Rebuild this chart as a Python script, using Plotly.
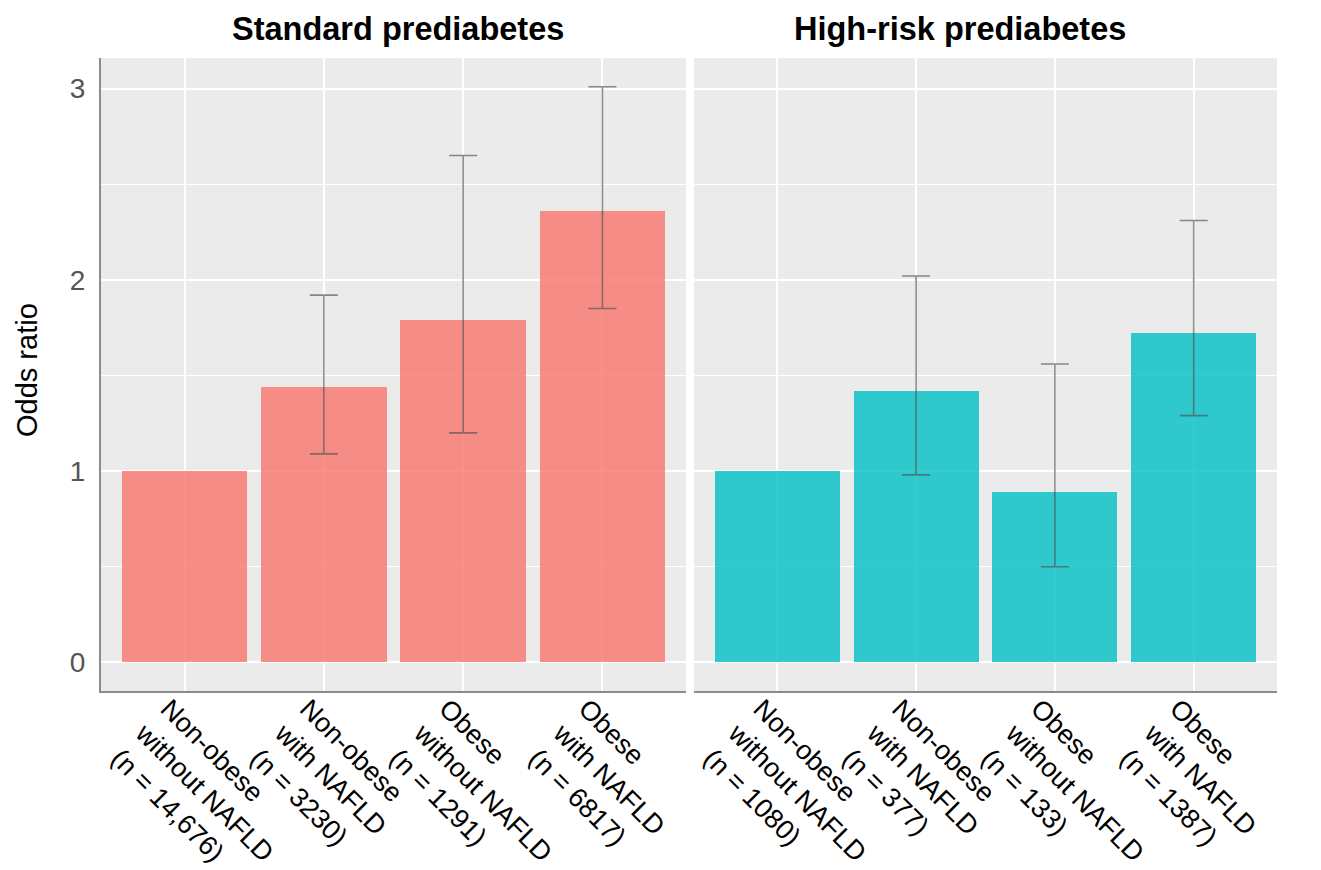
import plotly.graph_objects as go

categories_std = ["Non-obese<br>without NAFLD<br>(n = 14,676)",
                  "Non-obese<br>with NAFLD<br>(n = 3230)",
                  "Obese<br>without NAFLD<br>(n = 1291)",
                  "Obese<br>with NAFLD<br>(n = 6817)"]
categories_high = ["Non-obese<br>without NAFLD<br>(n = 1080)",
                   "Non-obese<br>with NAFLD<br>(n = 377)",
                   "Obese<br>without NAFLD<br>(n = 133)",
                   "Obese<br>with NAFLD<br>(n = 1387)"]

or_std = [1.0, 1.44, 1.79, 2.36]
lo_std = [None, 1.09, 1.20, 1.85]
hi_std = [None, 1.92, 2.65, 3.01]

or_high = [1.0, 1.42, 0.89, 1.72]
lo_high = [None, 0.98, 0.50, 1.29]
hi_high = [None, 2.02, 1.56, 2.31]

y_ticks = [0, 1, 2, 3]
panel_titles = ["Standard prediabetes", "High-risk prediabetes"]
y_title = "Odds ratio"

FONT = "Liberation Sans, Arial, sans-serif"

def err(vals, lo, hi):
    plus = [(h - v) if h is not None else 0 for v, h in zip(vals, hi)]
    minus = [(v - l) if l is not None else 0 for v, l in zip(vals, lo)]
    vis = [h is not None for h in hi]
    return plus, minus, vis

fig = go.Figure()

for i, (cats, vals, lo, hi, col) in enumerate([
        (categories_std, or_std, lo_std, hi_std, "rgba(248,118,109,0.8)"),
        (categories_high, or_high, lo_high, hi_high, "rgba(0,191,196,0.8)")]):
    plus, minus, vis = err(vals, lo, hi)
    xs = list(range(len(cats)))
    ax = "" if i == 0 else "2"
    fig.add_trace(go.Bar(
        x=xs, y=vals, width=0.9, marker=dict(color=col, line=dict(width=0)),
        xaxis="x" + ax, yaxis="y" + ax, showlegend=False,
    ))
    ex = [x for x, v in zip(xs, vis) if v]
    ey = [y for y, v in zip(vals, vis) if v]
    ep = [p for p, v in zip(plus, vis) if v]
    em = [m for m, v in zip(minus, vis) if v]
    fig.add_trace(go.Scatter(
        x=ex, y=ey, mode="markers", marker=dict(size=0.1, color="rgba(0,0,0,0)"),
        error_y=dict(type="data", symmetric=False, array=ep, arrayminus=em,
                     color="rgba(80,80,80,0.65)", thickness=1.6, width=14),
        xaxis="x" + ax, yaxis="y" + ax, showlegend=False, hoverinfo="skip",
    ))

# page body has an 8px default margin, so figure coords = screen coords - 8
OFF = 8
W, H = 1321 - OFF, 870 - OFF
ml, mt = 101 - OFF, 58 - OFF
plot_right, plot_bottom = 1277 - OFF, 691 - OFF
mr, mb = W - plot_right, H - plot_bottom
pw = W - ml - mr
ph = H - mt - mb

xcommon = dict(range=[-0.6, 3.6], tickmode="array", tickvals=[0, 1, 2, 3],
               tickangle=45, tickfont=dict(family=FONT, size=27, color="black"),
               ticklabelshift=-16, ticklabelstandoff=-11,
               showgrid=True, gridcolor="white", gridwidth=1.5, zeroline=False,
               showline=True, linecolor="#8c8c8c", linewidth=2, ticks="",
               automargin=False, fixedrange=True)
ycommon = dict(range=[-0.15, 3.16], tickmode="array", tickvals=y_ticks,
               showgrid=True, gridcolor="white", gridwidth=1.5, zeroline=False,
               minor=dict(tickmode="array", tickvals=[0.5, 1.5, 2.5], showgrid=True,
                          gridcolor="white", gridwidth=0.8),
               automargin=False, fixedrange=True)

fig.update_layout(
    width=W, height=H,
    margin=dict(l=ml, r=mr, t=mt, b=mb, autoexpand=False),
    paper_bgcolor="white", plot_bgcolor="#EBEBEB",
    font=dict(family=FONT, color="black"),
    bargap=0,
    xaxis=dict(domain=[0, (686 - OFF - ml) / pw], ticktext=categories_std, anchor="y", **xcommon),
    xaxis2=dict(domain=[(694 - OFF - ml) / pw, 1], ticktext=categories_high, anchor="y2", **xcommon),
    yaxis=dict(anchor="x", showline=True, linecolor="#8c8c8c", linewidth=2,
               tickfont=dict(family=FONT, size=28, color="#555555"),
               ticklabelstandoff=8, **ycommon),
    yaxis2=dict(anchor="x2", showticklabels=False, showline=False, matches="y", **ycommon),
)

def px_x(sx):
    return (sx - OFF - ml) / pw

def px_y(sy):
    return (H - mb - (sy - OFF)) / ph

fig.add_annotation(text="<b>" + panel_titles[0] + "</b>", x=px_x(397.5), y=px_y(29),
                   xref="paper", yref="paper", showarrow=False, xanchor="center", yanchor="middle",
                   font=dict(size=32.5, color="black", family=FONT))
fig.add_annotation(text="<b>" + panel_titles[1] + "</b>", x=px_x(960), y=px_y(29),
                   xref="paper", yref="paper", showarrow=False, xanchor="center", yanchor="middle",
                   font=dict(size=32.5, color="black", family=FONT))
fig.add_annotation(text=y_title, x=px_x(27), y=px_y(370), textangle=-90,
                   xref="paper", yref="paper", showarrow=False, xanchor="center", yanchor="middle",
                   borderpad=0, font=dict(size=29, color="black", family=FONT))

fig.write_html("out.html")
